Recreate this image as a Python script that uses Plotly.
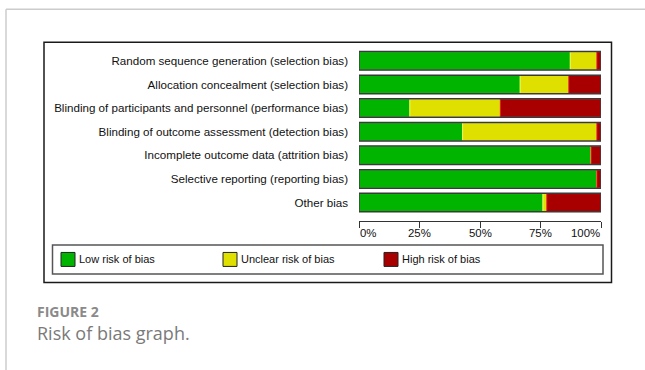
import plotly.graph_objects as go

categories = [
    "Random sequence generation (selection bias)",
    "Allocation concealment (selection bias)",
    "Blinding of participants and personnel (performance bias)",
    "Blinding of outcome assessment (detection bias)",
    "Incomplete outcome data (attrition bias)",
    "Selective reporting (reporting bias)",
    "Other bias",
]
low = [87.3, 66.6, 21.0, 42.8, 95.9, 98.3, 76.0]
unclear = [11.0, 20.1, 37.4, 55.5, 0.0, 0.0, 1.6]
high = [1.7, 13.3, 41.6, 1.7, 4.1, 1.7, 22.4]
series_names = ["Low risk of bias", "Unclear risk of bias", "High risk of bias"]
series_colors = ["#00B400", "#E0E000", "#A80000"]
edge_colors = ["#33E033", "#F5F560", "#E02020"]
tick_vals = [0, 25, 50, 75, 100]
tick_text = ["0%", "25%", "50%", "75%", "100%"]

W, H = 645, 370
L, R = 359, 601
T, B = 48.7, 221

def px(x):
    return (x - L) / (R - L)

def py(y):
    return (B - y) / (B - T)

fig = go.Figure()
series = [low, unclear, high]
base = [0.0] * len(categories)
for vals, name, col, ecol in zip(series, series_names, series_colors, edge_colors):
    fig.add_trace(go.Bar(
        y=categories, x=vals, base=list(base), orientation="h", name=name,
        marker=dict(color=col, line=dict(color=ecol, width=1)),
        width=0.76, showlegend=False,
    ))
    base = [b + v for b, v in zip(base, vals)]

# outline of each full bar
fig.add_trace(go.Bar(
    y=categories, x=base, base=[0] * len(categories), orientation="h",
    marker=dict(color="rgba(0,0,0,0)", line=dict(color="#3a3a3a", width=1.5)),
    width=0.78, showlegend=False, hoverinfo="skip",
))

shapes = []
annotations = []
# gray card border
shapes.append(dict(type="line", xref="paper", yref="paper", x0=px(6), x1=px(W + 5), y0=py(9), y1=py(9),
                   line=dict(color="#CCCCCC", width=1.5)))
shapes.append(dict(type="line", xref="paper", yref="paper", x0=px(6), x1=px(6), y0=py(9), y1=py(H + 5),
                   line=dict(color="#CCCCCC", width=1.5)))
# black frame
shapes.append(dict(type="rect", xref="paper", yref="paper", x0=px(44), x1=px(611.5), y0=py(42), y1=py(282.5),
                   line=dict(color="#1a1a1a", width=1.5), fillcolor="rgba(0,0,0,0)"))
# legend box
shapes.append(dict(type="rect", xref="paper", yref="paper", x0=px(52.5), x1=px(603), y0=py(245), y1=py(274),
                   line=dict(color="#555555", width=1.5), fillcolor="rgba(0,0,0,0)"))
leg_x = [61, 223, 384]
for lx, name, col in zip(leg_x, series_names, series_colors):
    shapes.append(dict(type="rect", xref="paper", yref="paper", x0=px(lx), x1=px(lx + 14), y0=py(252.5), y1=py(266.5),
                       line=dict(color="#222222", width=1), fillcolor=col))
    annotations.append(dict(xref="paper", yref="paper", x=px(lx + 15.5), y=py(259.5), text=name, showarrow=False,
                            xanchor="left", yanchor="middle",
                            font=dict(family="Liberation Sans, Arial", size=11, color="#111111")))

# x tick labels
for v, t in zip(tick_vals, tick_text):
    anchor = "left" if v == tick_vals[0] else ("right" if v == tick_vals[-1] else "center")
    annotations.append(dict(xref="x", yref="paper", x=v, y=py(233), text=t, showarrow=False,
                            xanchor=anchor, yanchor="middle", xshift=(-1 if anchor == "left" else 1 if anchor == "right" else 0),
                            font=dict(family="Liberation Sans, Arial", size=11.4, color="#111111")))

# caption
annotations.append(dict(xref="paper", yref="paper", x=px(35), y=py(312), text="<b>FIGURE 2</b>", showarrow=False,
                        xanchor="left", yanchor="middle", font=dict(family="Open Sans", size=14, color="#8a8a8a")))
annotations.append(dict(xref="paper", yref="paper", x=px(35), y=py(333), text="Risk of bias graph.", showarrow=False,
                        xanchor="left", yanchor="middle", font=dict(family="Open Sans", size=18, color="#7a7a7a")))

fig.update_layout(
    width=W, height=H,
    margin=dict(l=L, r=W - R, t=T, b=H - B, pad=0),
    barmode="overlay",
    plot_bgcolor="white", paper_bgcolor="white",
    shapes=shapes, annotations=annotations,
    xaxis=dict(range=[0, 100], tickvals=tick_vals, showticklabels=False, ticks="outside", ticklen=6,
               tickcolor="#333333", tickwidth=1.2, showline=True, linecolor="#333333", linewidth=1.2,
               showgrid=False, zeroline=False, fixedrange=True),
    yaxis=dict(categoryorder="array", categoryarray=categories, range=[6.78, -0.5], showgrid=False,
               zeroline=False, showline=False, ticks="", ticklabelstandoff=10,
               tickfont=dict(family="Liberation Sans, Arial", size=11.6, color="#111111")),
    font=dict(family="Liberation Sans, Arial"),
)

fig.write_html("out.html")
